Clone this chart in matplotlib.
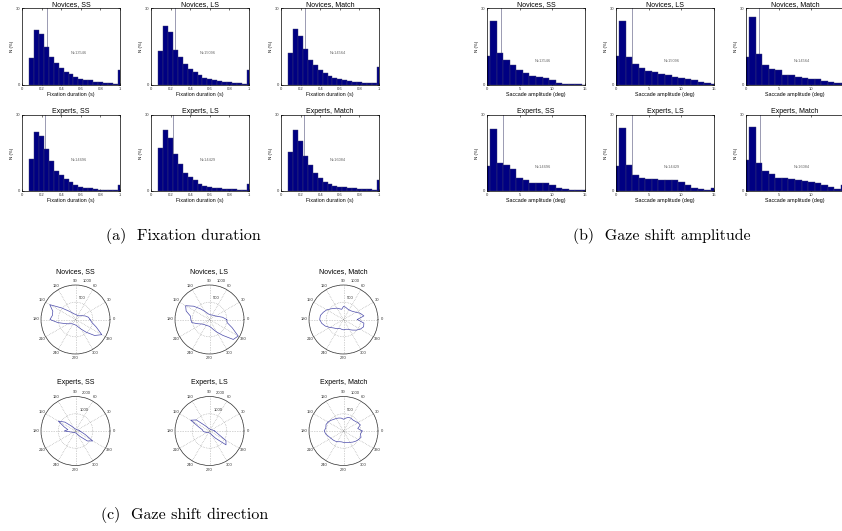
import matplotlib
matplotlib.use("Agg")
import matplotlib.pyplot as plt
import numpy as np

plt.rcParams['font.family'] = ['Liberation Sans', 'DejaVu Sans']

W, H = 842, 531

titles = ["Novices, SS", "Novices, LS", "Novices, Match",
          "Experts, SS", "Experts, LS", "Experts, Match"]
n_labels = ["N=13546", "N=15096", "N=14564", "N=14696", "N=14429", "N=16084"]

# (a) fixation duration, % of fixations per 0.05 s bin
fix_bins = [0.10, 0.15, 0.20, 0.25, 0.30, 0.35, 0.40, 0.45, 0.50, 0.55,
            0.60, 0.65, 0.70, 0.75, 0.80, 0.85, 0.90, 0.95, 1.00]
fix_nov_ss = [10.4, 21.4, 19.9, 14.7, 10.9, 8.6, 6.6, 4.9, 4.2, 3.3, 2.4, 2.0, 1.8, 1.3, 1.0, 0.9, 0.7, 0.5, 6.0]
fix_nov_ls = [13.2, 23.0, 20.7, 13.8, 10.9, 8.3, 6.3, 4.9, 3.9, 2.9, 2.4, 2.1, 1.7, 1.3, 1.0, 0.8, 0.7, 0.4, 5.7]
fix_nov_match = [12.5, 22.0, 19.0, 14.0, 9.9, 7.9, 5.9, 4.6, 3.6, 2.9, 2.4, 2.0, 1.6, 1.3, 1.2, 0.9, 0.8, 0.7, 7.2]
fix_exp_ss = [12.7, 23.4, 21.7, 16.4, 11.8, 7.9, 6.2, 4.6, 3.6, 2.2, 1.7, 1.3, 1.1, 0.8, 0.5, 0.4, 0.3, 0.3, 2.5]
fix_exp_ls = [17.0, 24.0, 21.1, 14.5, 10.6, 7.1, 5.5, 4.2, 2.9, 2.1, 1.6, 1.3, 1.1, 0.9, 0.8, 0.7, 0.5, 0.4, 2.6]
fix_exp_match = [15.4, 24.2, 19.9, 13.9, 10.3, 7.0, 5.3, 3.7, 2.6, 2.1, 1.7, 1.4, 1.2, 1.1, 0.9, 0.7, 0.7, 0.5, 4.3]
fix_means = [0.25, 0.24, 0.24, 0.23, 0.22, 0.23]

# (b) saccade amplitude, % per 1 deg bin
amp_bins = [0, 1, 2, 3, 4, 5, 6, 7, 8, 9, 10, 11, 12, 13, 14, 15]
amp_nov_ss = [11.2, 25.0, 12.5, 9.6, 7.6, 5.9, 4.6, 3.7, 3.0, 2.8, 2.0, 0.8, 0.5, 0.3, 0.3, 0.1]
amp_nov_ls = [11.2, 25.0, 10.9, 8.3, 6.6, 5.5, 4.9, 4.3, 3.8, 3.0, 2.9, 2.5, 2.0, 1.2, 0.6, 0.3]
amp_nov_match = [10.9, 26.3, 12.2, 7.6, 6.3, 5.7, 3.9, 3.9, 3.0, 2.6, 2.5, 2.4, 1.7, 1.3, 0.8, 0.8]
amp_exp_ss = [9.8, 24.3, 11.1, 10.2, 8.6, 5.3, 4.2, 3.3, 3.2, 3.2, 2.2, 1.3, 0.8, 0.5, 0.5, 0.3]
amp_exp_ls = [9.8, 24.7, 10.2, 6.5, 5.3, 4.8, 4.8, 4.5, 4.2, 4.2, 3.7, 2.5, 1.2, 0.9, 0.5, 1.1]
amp_exp_match = [12.4, 25.4, 11.1, 7.9, 6.6, 5.3, 5.0, 4.8, 4.2, 3.8, 3.6, 3.2, 2.2, 1.6, 0.9, 2.2]
amp_means = [2.2, 2.4, 2.0, 2.4, 2.5, 2.1]

# (c) gaze shift direction, counts per 10 deg
dir_angles = list(range(0, 360, 10))
dir_nov_ss = [420, 380, 300, 220, 170, 140, 130, 130, 140, 150, 160, 190, 240, 330, 520, 860, 700, 680,
              740, 520, 340, 250, 190, 160, 150, 150, 150, 160, 180, 230, 320, 480, 720, 880, 640, 480]
dir_nov_ls = [500, 380, 260, 200, 180, 160, 150, 140, 140, 150, 160, 200, 270, 400, 600, 800, 720, 560,
              540, 520, 360, 260, 220, 200, 200, 190, 190, 200, 230, 300, 420, 600, 900, 960, 700, 520]
dir_nov_match = [400, 600, 520, 420, 360, 330, 320, 330, 360, 380, 300, 330, 380, 420, 480, 560, 620, 680,
                 690, 640, 560, 460, 380, 340, 300, 280, 290, 300, 290, 300, 340, 400, 480, 560, 620, 600]
dir_exp_ss = [250, 200, 160, 130, 110, 100, 100, 100, 110, 120, 130, 160, 220, 380, 800, 1150, 700, 450,
              650, 300, 200, 160, 130, 110, 100, 100, 100, 110, 120, 150, 220, 420, 900, 1150, 600, 350]
dir_exp_ls = [300, 220, 170, 140, 120, 110, 110, 110, 120, 130, 140, 170, 240, 420, 1000, 1250, 650, 420,
              380, 300, 220, 170, 140, 120, 110, 110, 110, 120, 130, 170, 260, 550, 1250, 1100, 550, 380]
dir_exp_match = [540, 420, 520, 480, 440, 420, 430, 420, 380, 340, 380, 400, 420, 440, 480, 520, 540, 520,
                 560, 520, 460, 420, 400, 380, 360, 330, 320, 330, 340, 350, 380, 420, 460, 500, 540, 500]
dir_rmax = [1000, 1000, 1000, 2000, 2000, 1000]

BAR = '#000082'
BAR_EDGE = '#3c3c70'
TXT = '#333333'

fig = plt.figure(figsize=(W / 100, H / 100), dpi=100)


def px_axes(x0, y0, x1, y1, **kw):
    # pixel box (from top-left) -> figure fraction
    return fig.add_axes([x0 / W, 1 - y1 / H, (x1 - x0) / W, (y1 - y0) / H], **kw)


def draw_hist(ax, bins, width, heights, mean, title, nlabel, xlabel, xlim, xticks, xticklabels, nxy):
    ax.bar(bins, heights, width=width, color=BAR, edgecolor=BAR_EDGE, linewidth=0.3, zorder=2)
    ax.axvline(mean, color='#8a8aa6', lw=0.6, zorder=1)
    ax.set_xlim(xlim)
    ax.set_ylim(0, 30)
    ax.set_xticks(xticks)
    ax.set_xticklabels(xticklabels)
    ax.set_yticks([0, 30])
    ax.tick_params(direction='in', length=1.5, width=0.4, labelsize=3, pad=1.2,
                   top=True, right=True, labelcolor=TXT)
    for s in ax.spines.values():
        s.set_linewidth(0.5)
    ax.set_title(title, fontsize=5, pad=1.5)
    ax.set_xlabel(xlabel, fontsize=3.8, labelpad=1.2)
    ax.set_ylabel("N (%)", fontsize=3.2, labelpad=1.0)
    ax.text(nxy[0], nxy[1], nlabel, transform=ax.transAxes, fontsize=2.8,
            color='#666666', ha='left', va='center')


fix_data = [fix_nov_ss, fix_nov_ls, fix_nov_match, fix_exp_ss, fix_exp_ls, fix_exp_match]
amp_data = [amp_nov_ss, amp_nov_ls, amp_nov_match, amp_exp_ss, amp_exp_ls, amp_exp_match]
dir_data = [dir_nov_ss, dir_nov_ls, dir_nov_match, dir_exp_ss, dir_exp_ls, dir_exp_match]

row_y = [(8, 85), (115, 191)]
fix_cols = [(22, 120), (151, 249), (281, 379)]
amp_cols = [(487, 585), (616, 714), (746, 844)]

for i in range(6):
    r, c = divmod(i, 3)
    y0, y1 = row_y[r]
    ax = px_axes(fix_cols[c][0], y0, fix_cols[c][1], y1)
    draw_hist(ax, fix_bins, 0.05, fix_data[i], fix_means[i], titles[i], n_labels[i],
              "Fixation duration (s)", (0, 1), [0, 0.2, 0.4, 0.6, 0.8, 1],
              ["0", "0.2", "0.4", "0.6", "0.8", "1"], (0.5, 0.41))
    ax = px_axes(amp_cols[c][0], y0, amp_cols[c][1], y1)
    draw_hist(ax, amp_bins, 1.0, amp_data[i], amp_means[i], titles[i], n_labels[i],
              "Saccade amplitude (deg)", (0, 15), [0, 5, 10, 15],
              ["0", "5", "10", "15"], (0.49, 0.31))

# polar plots
pol_cx = [75.5, 209.5, 343.5]
pol_cy = [319.5, 431]
R = 34.5
ang_ticks = list(range(0, 360, 30))

for i in range(6):
    r, c = divmod(i, 3)
    cx, cy = pol_cx[c], pol_cy[r]
    ax = px_axes(cx - R, cy - R, cx + R, cy + R, projection='polar')
    rmax = dir_rmax[i]
    th = np.radians(dir_angles + [dir_angles[0]])
    rr = dir_data[i] + [dir_data[i][0]]
    ax.plot(th, rr, color='#4a4aaa', lw=0.5)
    ax.set_rlim(0, rmax)
    ax.set_thetagrids(ang_ticks, [''] * len(ang_ticks))
    ax.set_rgrids([rmax / 2, rmax], labels=['', ''])
    ax.grid(True, color='#999999', lw=0.45, ls=':')
    ax.spines['polar'].set_linewidth(0.5)
    ax.spines['polar'].set_color('#333333')
    ax.tick_params(axis='x', length=0)
    for a in ang_ticks:
        ax.text(np.radians(a), 1.13 * rmax, str(a), fontsize=3, color=TXT,
                ha='center', va='center')
    for rv in [rmax // 2, rmax]:
        ax.text(np.radians(80), rv + 0.13 * rmax, str(rv), fontsize=3, color=TXT,
                ha='left', va='center')
    ax.text(0.5, 1.2, titles[i], transform=ax.transAxes, fontsize=5,
            ha='center', va='center')

# captions
cap = dict(fontsize=11.5, family='cmr10', ha='center', va='center')
fig.text(183 / W, 1 - 236 / H, "(a)  Fixation duration", **cap)
fig.text(662 / W, 1 - 236 / H, "(b)  Gaze shift amplitude", **cap)
fig.text(185 / W, 1 - 515 / H, "(c)  Gaze shift direction", **cap)

fig.savefig("out.png", dpi=100)
